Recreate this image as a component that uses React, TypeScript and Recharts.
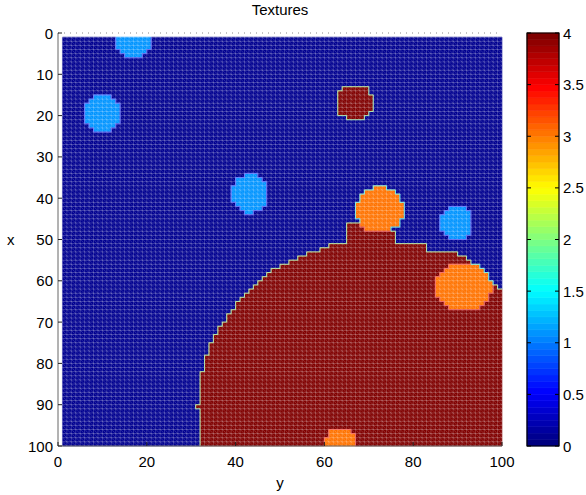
import React from "react";
import {
  ComposedChart,
  XAxis,
  YAxis,
  Scatter,
  ReferenceArea,
  ReferenceLine,
  Label,
} from "recharts";

const FONT = "'Liberation Sans', Arial, Helvetica, sans-serif";

// tick labels
const yTicks = [0, 20, 40, 60, 80, 100]; // horizontal axis ("y")
const xTicks = [0, 10, 20, 30, 40, 50, 60, 70, 80, 90, 100]; // vertical axis ("x")
const colorTicks = [0, 0.5, 1, 1.5, 2, 2.5, 3, 3.5, 4];

// the grid of cells runs from 1 to 100 on both axes
const gridStart = 1;
const gridEnd = 100;
const backgroundValue = 0.12;

// big region at the bottom right, per row: first column and column after the last
const regionRows = [
  46, 47, 48, 49, 50, 51, 52, 53, 54, 55, 56, 57, 58, 59, 60, 61, 62, 63, 64,
  65, 66, 67, 68, 69, 70, 71, 72, 73, 74, 75, 76, 77, 78, 79, 80, 81, 82, 83,
  84, 85, 86, 87, 88, 89, 90, 91, 92, 93, 94, 95, 96, 97, 98, 99,
];
const regionLeft = [
  65, 65, 65, 65, 65, 61, 59, 56, 54, 52, 50, 48, 47, 46, 45, 44, 43, 42, 41,
  40, 40, 39, 38, 38, 37, 36, 36, 35, 35, 34, 34, 34, 33, 33, 33, 33, 32, 32,
  32, 32, 32, 32, 32, 32, 31, 32, 32, 32, 32, 32, 32, 32, 32, 32,
];
const regionRight = [
  69, 69, 76, 76, 76, 83, 83, 90, 92, 93, 94, 95, 96, 97, 98, 99, 100, 100, 100,
  100, 100, 100, 100, 100, 100, 100, 100, 100, 100, 100, 100, 100, 100, 100,
  100, 100, 100, 100, 100, 100, 100, 100, 100, 100, 100, 100, 100, 100, 100,
  100, 100, 100, 100, 100,
];
const regionValue = 4;

// round patches: centre (column, row), half sizes and value
const patchCol = [17, 10.1, 66.8, 43.2, 72.4, 89.8, 91.3, 63.8];
const patchRow = [2.5, 19.6, 16.8, 38.9, 42.9, 46, 61.5, 99.2];
const patchHalfCol = [3.8, 4.4, 4.3, 4, 5.4, 3.6, 6.3, 3.7];
const patchHalfRow = [3.8, 4.5, 4.3, 4.8, 5.6, 4, 6, 3.7];
const patchValue = [1.1, 1.1, 4, 1.1, 3, 1.1, 3, 3];

const cmin = 0;
const cmax = 4;
const nLevels = 64;

function jetRgb(t: number) {
  const c = (v: number) => Math.max(0, Math.min(1, v));
  return [
    c(1.5 - Math.abs(4 * t - 3)),
    c(1.5 - Math.abs(4 * t - 2)),
    c(1.5 - Math.abs(4 * t - 1)),
  ];
}

function jet(t: number, mixWhite = 0) {
  const [r, g, b] = jetRgb(t).map((v) => v * (1 - mixWhite) + mixWhite);
  return `rgb(${Math.round(r * 255)},${Math.round(g * 255)},${Math.round(b * 255)})`;
}

function levelIndex(v: number) {
  const i = Math.floor(((v - cmin) / (cmax - cmin)) * nLevels);
  return Math.max(0, Math.min(nLevels - 1, i));
}

function levelColor(v: number, mixWhite = 0) {
  return jet(levelIndex(v) / (nLevels - 1), mixWhite);
}

function cellValue(row: number, col: number) {
  let v = backgroundValue;
  const k = regionRows.indexOf(row);
  if (k >= 0 && col >= regionLeft[k] && col < regionRight[k]) v = regionValue;
  for (let i = 0; i < patchCol.length; i++) {
    const dc = (col + 0.5 - patchCol[i]) / patchHalfCol[i];
    const dr = (row + 0.5 - patchRow[i]) / patchHalfRow[i];
    if (dc * dc + dr * dr <= 1) v = patchValue[i];
  }
  return v;
}

// runs of equal value along each row
const runs: { row: number; c0: number; c1: number; v: number }[] = [];
for (let row = gridStart; row < gridEnd; row++) {
  let c0 = gridStart;
  let cur = cellValue(row, gridStart);
  for (let col = gridStart + 1; col <= gridEnd; col++) {
    const v = col < gridEnd ? cellValue(row, col) : NaN;
    if (v !== cur) {
      runs.push({ row, c0, c1: col, v: cur });
      c0 = col;
      cur = v;
    }
  }
}
const runPoints = runs.map((r) => ({ col: r.c0, row: r.row }));

// edges between cells of different value (the shaded fringe)
const edges: { x1: number; y1: number; x2: number; y2: number; mid: number }[] = [];
for (let row = gridStart; row < gridEnd; row++) {
  for (let col = gridStart; col < gridEnd; col++) {
    const v = cellValue(row, col);
    if (col > gridStart) {
      const w = cellValue(row, col - 1);
      if (w !== v) edges.push({ x1: col, y1: row, x2: col, y2: row + 1, mid: (v + w) / 2 });
    }
    if (row > gridStart) {
      const w = cellValue(row - 1, col);
      if (w !== v) edges.push({ x1: col, y1: row, x2: col + 1, y2: row, mid: (v + w) / 2 });
    }
  }
}

const meshPos = Array.from({ length: gridEnd - gridStart + 1 }, (_, i) => gridStart + i);
const levels = Array.from({ length: nLevels }, (_, i) => i);
const colorbarPoints = [
  { a: 0, level: cmin },
  { a: 1, level: cmax },
];

const NoShape = () => <g />;

const LeftTick = ({ x, y, payload }: any) => (
  <g>
    <line x1={x} x2={x + 4} y1={y} y2={y} stroke="#222" />
    <text x={x - 5} y={y} textAnchor="end" dominantBaseline="central" fontSize={15} fontFamily={FONT} fill="#000">
      {payload.value}
    </text>
  </g>
);

const BottomTick = ({ x, y, payload }: any) => (
  <g>
    <line x1={x} x2={x} y1={y} y2={y - 4} stroke="#222" />
    <text x={x} y={y + 15} textAnchor="middle" dominantBaseline="central" fontSize={15} fontFamily={FONT} fill="#000">
      {payload.value}
    </text>
  </g>
);

const ColorTick = ({ x, y, payload }: any) => (
  <g>
    <line x1={x - 4} x2={x} y1={y} y2={y} stroke="#000" />
    <line x1={x - 32} x2={x - 28} y1={y} y2={y} stroke="#000" />
    <text x={x + 4} y={y} textAnchor="start" dominantBaseline="central" fontSize={15} fontFamily={FONT} fill="#000">
      {payload.value}
    </text>
  </g>
);

export default function App() {
  return (
    <div style={{ position: "absolute", left: 0, top: 0, width: 586, height: 495, background: "#fff", fontFamily: FONT }}>
      <div style={{ position: "absolute", left: 58, top: 2, width: 444, textAlign: "center", fontSize: 15, lineHeight: "16px" }}>
        Textures
      </div>

      <div style={{ position: "absolute", left: 0, top: 0 }}>
        <ComposedChart width={586} height={495} margin={{ top: 33, right: 84, bottom: 0, left: 0 }}>
          <defs>
            <pattern id="diag" patternUnits="userSpaceOnUse" x={62.4} y={37.1} width={4.44} height={4.13}>
              <line x1={0} y1={0} x2={4.44} y2={4.13} stroke="#fff" strokeOpacity={0.2} strokeWidth={0.8} />
            </pattern>
          </defs>
          <XAxis
            type="number"
            dataKey="col"
            domain={[0, 100]}
            ticks={yTicks}
            height={49}
            tickSize={0}
            tickMargin={0}
            tick={<BottomTick />}
            axisLine={{ stroke: "#666" }}
            allowDataOverflow
          >
            <Label value="y" position="insideBottom" offset={7} fontSize={15} fill="#000" />
          </XAxis>
          <YAxis
            type="number"
            dataKey="row"
            domain={[0, 100]}
            reversed
            ticks={xTicks}
            width={58}
            tickSize={0}
            tickMargin={0}
            tick={<LeftTick />}
            axisLine={{ stroke: "#666" }}
            allowDataOverflow
          >
            <Label value="x" position="insideLeft" offset={7} fontSize={15} fill="#000" />
          </YAxis>
          <Scatter data={runPoints} dataKey="row" shape={<NoShape />} isAnimationActive={false} />

          {runs.map((r, i) => (
            <ReferenceArea
              key={`run-${i}`}
              x1={r.c0}
              x2={r.c1}
              y1={r.row}
              y2={r.row + 1}
              fill={levelColor(r.v)}
              fillOpacity={1}
              stroke={levelColor(r.v)}
              strokeWidth={0.6}
            />
          ))}
          <ReferenceArea x1={gridStart} x2={gridEnd} y1={gridStart} y2={gridEnd} fill="url(#diag)" fillOpacity={1} stroke="none" />
          {meshPos.map((p) => (
            <ReferenceLine key={`mv-${p}`} x={p} stroke="#fff" strokeOpacity={0.2} segment={[{ x: p, y: gridStart }, { x: p, y: gridEnd }]} />
          ))}
          {meshPos.map((p) => (
            <ReferenceLine key={`mh-${p}`} y={p} stroke="#fff" strokeOpacity={0.2} segment={[{ x: gridStart, y: p }, { x: gridEnd, y: p }]} />
          ))}
          {edges.map((e, i) => (
            <ReferenceLine
              key={`edge-${i}`}
              stroke={levelColor(e.mid, 0.45)}
              strokeOpacity={0.85}
              strokeWidth={1.1}
              segment={[{ x: e.x1, y: e.y1 }, { x: e.x2, y: e.y2 }]}
            />
          ))}
          <ReferenceLine y={0} stroke="#888" strokeDasharray="1 5" />
        </ComposedChart>
      </div>

      <div style={{ position: "absolute", left: 0, top: 0 }}>
        <ComposedChart width={586} height={495} margin={{ top: 33, right: 0, bottom: 49, left: 527 }}>
          <XAxis type="number" dataKey="a" domain={[0, 1]} hide allowDataOverflow />
          <YAxis
            type="number"
            dataKey="level"
            orientation="right"
            domain={[cmin, cmax]}
            ticks={colorTicks}
            width={27}
            tickSize={0}
            tickMargin={0}
            tick={<ColorTick />}
            axisLine={false}
            allowDataOverflow
          />
          <Scatter data={colorbarPoints} dataKey="level" shape={<NoShape />} isAnimationActive={false} />
          {levels.map((i) => (
            <ReferenceArea
              key={`lv-${i}`}
              x1={0}
              x2={1}
              y1={cmin + ((cmax - cmin) * i) / nLevels}
              y2={cmin + ((cmax - cmin) * (i + 1)) / nLevels}
              fill={jet(i / (nLevels - 1))}
              fillOpacity={1}
              stroke={jet(i / (nLevels - 1))}
              strokeWidth={0.6}
            />
          ))}
          <ReferenceArea x1={0} x2={1} y1={cmin} y2={cmax} fill="none" stroke="#000" strokeWidth={1.2} />
        </ComposedChart>
      </div>
    </div>
  );
}
